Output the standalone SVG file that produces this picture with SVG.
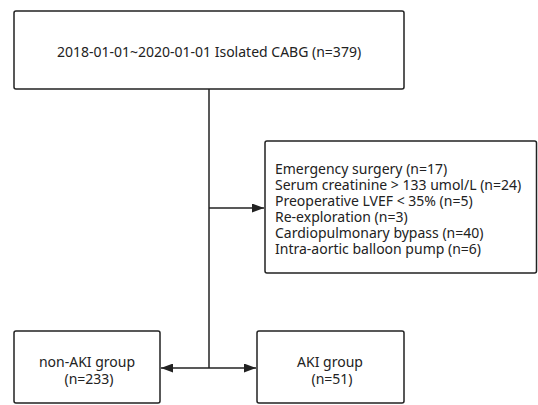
<svg xmlns="http://www.w3.org/2000/svg" width="538" height="405" viewBox="0 0 538 405">
<style>
.box{fill:#fff;stroke:#222;stroke-width:1.5}
.t{font-family:"Noto Sans","Open Sans",sans-serif;font-size:14px;fill:#222}
.c{text-anchor:middle}
.ln{stroke:#222;stroke-width:1.5;fill:none}
</style>
<defs>
<marker id="ah" markerWidth="12" markerHeight="9" refX="12" refY="4.5" orient="auto" markerUnits="userSpaceOnUse">
<path d="M0,0 L12,4.5 L0,9 Z" fill="#222"/>
</marker>
</defs>
<rect width="538" height="405" fill="#fff"/>
<g id="connectors">
<line class="ln" x1="209" y1="89" x2="209" y2="368"/>
<line class="ln" x1="209" y1="208" x2="264" y2="208" marker-end="url(#ah)"/>
<line class="ln" x1="209" y1="368" x2="161" y2="368" marker-end="url(#ah)"/>
<line class="ln" x1="209" y1="368" x2="256" y2="368" marker-end="url(#ah)"/>
</g>
<g id="top">
<rect class="box" x="14" y="11" width="390" height="78" rx="2"/>
<text class="t c" x="209" y="57">2018-01-01~2020-01-01 Isolated CABG (n=379)</text>
</g>
<g id="exclusion">
<rect class="box" x="265" y="141" width="271.5" height="132" rx="2"/>
<text class="t" x="275" y="174">Emergency surgery (n=17)</text>
<text class="t" x="275" y="190">Serum creatinine &gt; 133 umol/L (n=24)</text>
<text class="t" x="275" y="206">Preoperative LVEF &lt; 35% (n=5)</text>
<text class="t" x="275" y="222">Re-exploration (n=3)</text>
<text class="t" x="275" y="238">Cardiopulmonary bypass (n=40)</text>
<text class="t" x="275" y="254">Intra-aortic balloon pump (n=6)</text>
</g>
<g id="nonaki">
<rect class="box" x="14" y="331" width="146" height="72" rx="2"/>
<text class="t c" x="87" y="367">non-AKI group</text>
<text class="t c" x="89" y="384">(n=233)</text>
</g>
<g id="aki">
<rect class="box" x="257" y="331" width="147" height="72" rx="2"/>
<text class="t c" x="330" y="367">AKI group</text>
<text class="t c" x="332" y="384">(n=51)</text>
</g>
</svg>
